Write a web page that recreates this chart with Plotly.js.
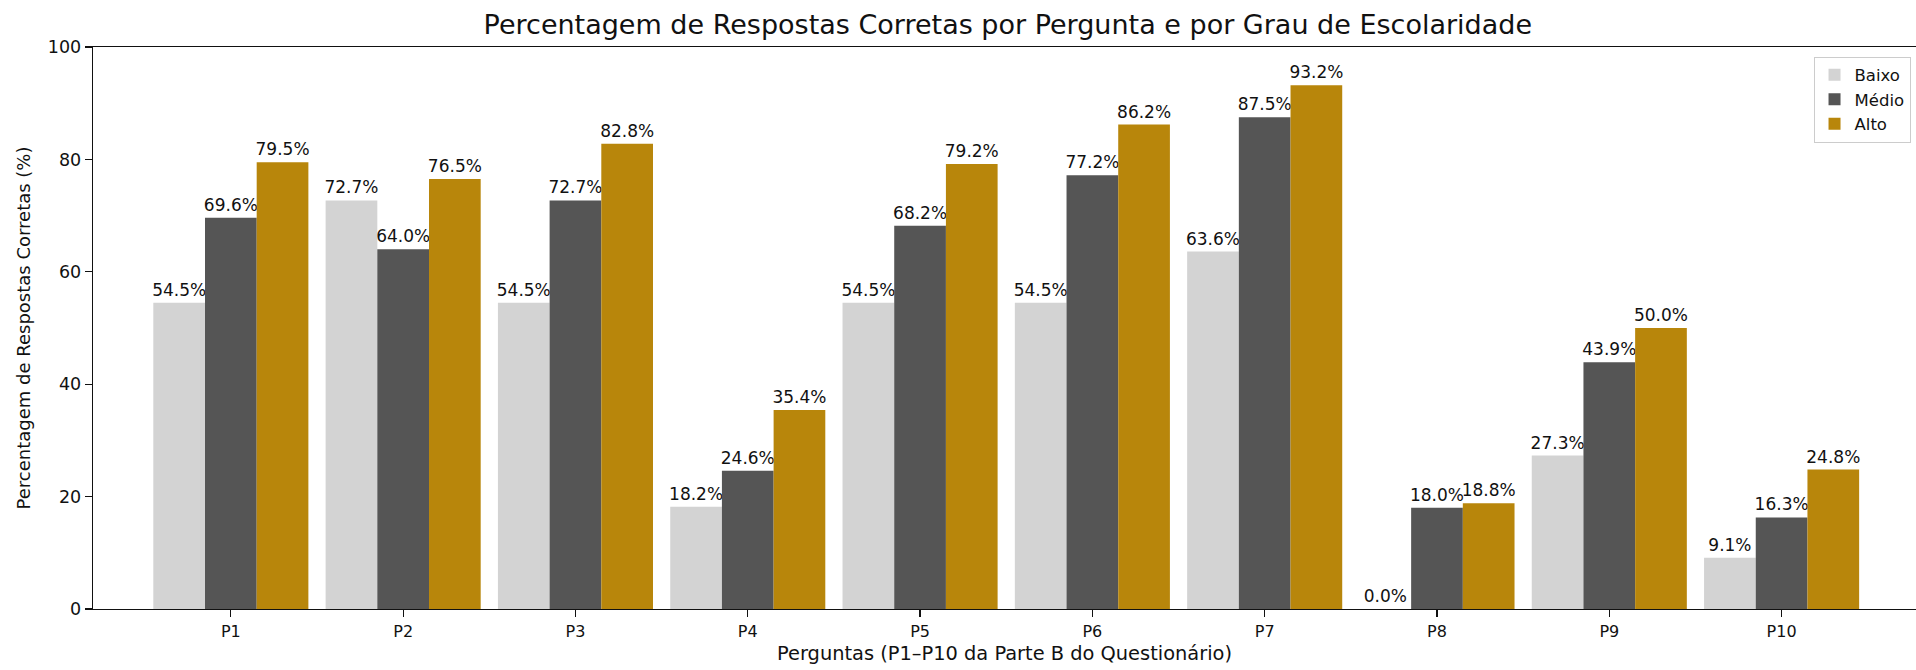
<!DOCTYPE html>
<html>
<head>
<meta charset="utf-8">
<script src="https://cdn.plot.ly/plotly-3.0.1.min.js"></script>
<style>html,body{margin:0;padding:0;background:#fff;}#chart{width:1916px;height:670px;}</style>
</head>
<body>
<div id="chart"></div>
<script>
const categories = ["P1","P2","P3","P4","P5","P6","P7","P8","P9","P10"];
const seriesNames = ["Baixo","Médio","Alto"];
const baixo = [54.5, 72.7, 54.5, 18.2, 54.5, 54.5, 63.6, 0.0, 27.3, 9.1];
const medio = [69.6, 64.0, 72.7, 24.6, 68.2, 77.2, 87.5, 18.0, 43.9, 16.3];
const alto  = [79.5, 76.5, 82.8, 35.4, 79.2, 86.2, 93.2, 18.8, 50.0, 24.8];
const colors = ["#d3d3d3", "#555555", "#b8860b"];
const yTicks = [0, 20, 40, 60, 80, 100];

const FONT = "DejaVu Sans, Liberation Sans, sans-serif";
const seriesData = [baixo, medio, alto];
const traces = seriesData.map((vals, i) => ({
  type: "bar",
  name: seriesNames[i],
  x: categories,
  y: vals,
  marker: {color: colors[i], line: {width: 0}},
  text: vals.map(v => v.toFixed(1) + "%"),
  textposition: "outside",
  constraintext: "none",
  cliponaxis: false,
  textfont: {family: FONT, size: 17, color: "#111"},
  hoverinfo: "skip"
}));

const layout = {
  width: 1916,
  height: 670,
  margin: {l: 93, r: 0, t: 47, b: 61, pad: 0},
  paper_bgcolor: "#fff",
  plot_bgcolor: "#fff",
  font: {family: FONT, color: "#111", size: 17},
  title: {
    text: "Percentagem de Respostas Corretas por Pergunta e por Grau de Escolaridade",
    font: {family: FONT, size: 27, color: "#111"},
    x: 0.526, xanchor: "center",
    y: 0.963, yanchor: "middle"
  },
  barmode: "group",
  bargap: 0.1,
  bargroupgap: 0,
  xaxis: {
    type: "category",
    range: [-0.8, 9.78],
    showgrid: false,
    showline: true, linecolor: "#111", linewidth: 1.3, mirror: true,
    ticks: "outside", ticklen: 7, tickwidth: 1.2, tickcolor: "#111",
    tickfont: {family: FONT, size: 16, color: "#111"},
    title: {text: "Perguntas (P1–P10 da Parte B do Questionário)", font: {family: FONT, size: 19.4, color: "#111"}, standoff: 7},
    zeroline: false
  },
  yaxis: {
    range: [0, 100],
    tickvals: yTicks,
    showgrid: false,
    showline: true, linecolor: "#111", linewidth: 1.3, mirror: false,
    ticks: "outside", ticklen: 7, tickwidth: 1.2, tickcolor: "#111",
    tickfont: {family: FONT, size: 17.5, color: "#111"},
    title: {text: "Percentagem de Respostas Corretas (%)", font: {family: FONT, size: 18, color: "#111"}, standoff: 12},
    zeroline: false
  },
  legend: {
    x: 0.997, xanchor: "right",
    y: 0.983, yanchor: "top",
    bgcolor: "rgba(255,255,255,0.8)",
    bordercolor: "#cccccc", borderwidth: 1,
    font: {family: FONT, size: 16.5, color: "#111"},
    itemwidth: 30,
    tracegroupgap: 0
  },
  showlegend: true
};

Plotly.newPlot("chart", traces, layout, {displayModeBar: false, staticPlot: true});
</script>
</body>
</html>
